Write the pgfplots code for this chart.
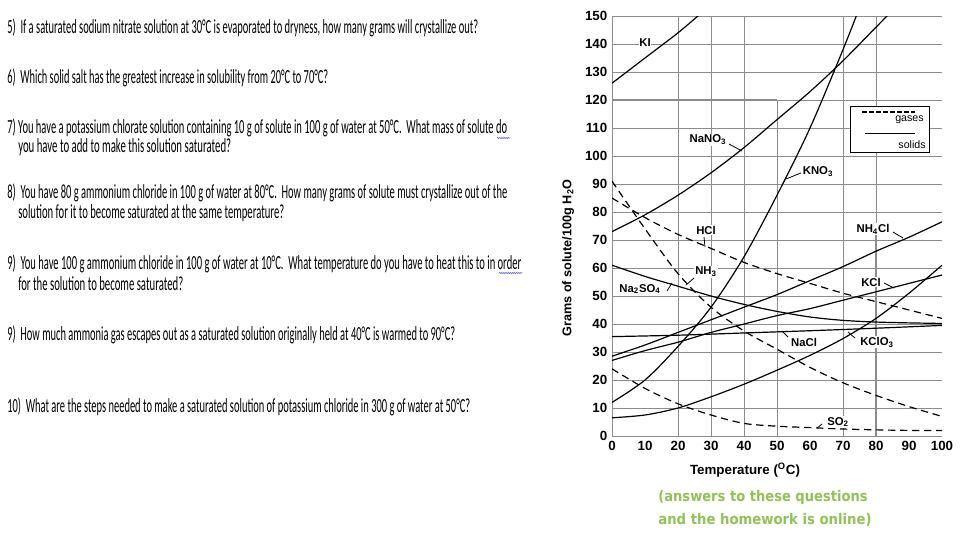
\documentclass[border=0pt]{standalone}
\usepackage{pgfplots}
\pgfplotsset{compat=1.18}
\usepackage{fontspec}
\setmainfont{Liberation Sans}
\newfontfamily\calib{Carlito}
\newfontfamily\dejavu{DejaVu Sans}
\usetikzlibrary{decorations.pathmorphing}
\definecolor{gridgray}{RGB}{140,140,140}
\definecolor{ansgreen}{RGB}{143,196,82}
\definecolor{spellblue}{RGB}{90,90,210}

% one line of the worksheet: x, baseline y (px), width (pt), text
\newcommand{\qline}[4]{%
  \node[anchor=base west,inner sep=0pt] at (#1,#2)
    {\resizebox{#3}{\height}{\calib\fontsize{15}{18}\selectfont #4}};}

\begin{document}
\begin{tikzpicture}
\useasboundingbox (0,0) rectangle (720pt,-405pt);

\begin{axis}[
  at={(459pt,-327pt)}, anchor=south west,
  scale only axis, width=247.5pt, height=315pt,
  xmin=0, xmax=100, ymin=0, ymax=150,
  xtick={0,10,...,100}, ytick={0,10,...,150},
  axis x line*=bottom, axis y line*=left,
  axis line style={gridgray, line width=0.75pt},
  ymajorgrids,
  grid style={gridgray, line width=0.6pt},
  major tick length=0pt,
  ticklabel style={font=\bfseries\fontsize{10}{12}\selectfont},
  /pgf/number format/assume math mode=true,
  cycle list={{black,solid}},
  every axis plot post/.append style={black, mark=none, line width=0.9pt, smooth},
  gas/.style={black, dash pattern=on 5.5pt off 3.5pt},
]
% partial vertical grid, as on the sheet
\draw[gridgray, line width=0.6pt] (axis cs:20,0) -- (axis cs:20,150);
\draw[gridgray, line width=0.6pt] (axis cs:30,0) -- (axis cs:30,150);
\draw[gridgray, line width=0.6pt] (axis cs:40,0) -- (axis cs:40,150);
\draw[gridgray, line width=0.6pt] (axis cs:50,0) -- (axis cs:50,120);
\draw[gridgray, line width=0.6pt] (axis cs:70,0) -- (axis cs:70,150);
\draw[gridgray, line width=0.6pt] (axis cs:80,75) -- (axis cs:80,150);
\draw[gridgray, line width=1.5pt] (axis cs:80,0) -- (axis cs:80,75);
\draw[gridgray, line width=1.5pt] (axis cs:0,120) -- (axis cs:50,120);

% solids
\addplot coordinates {(0,126) (10,135) (20,144) (27,151)}; % KI
\addplot coordinates {(0,73) (10,79) (20,86) (30,94) (40,103) (50,113) (60,123) (70,134) (80,146) (85,152)}; % NaNO3
\addplot coordinates {(0,12) (10,20) (20,32) (30,46) (40,64) (50,86) (60,110) (70,138) (75,153)}; % KNO3
\addplot coordinates {(0,28.5) (10,32.5) (20,37) (30,41.5) (40,46) (50,50.5) (60,55.5) (70,60.5) (80,66) (90,71) (100,76.5)}; % NH4Cl
\addplot coordinates {(0,27) (10,30.5) (20,33.5) (30,37) (40,40) (50,43) (60,45.5) (70,48.5) (80,51.5) (90,54.5) (100,57.5)}; % KCl
\addplot coordinates {(0,35.5) (20,36) (40,36.8) (60,37.6) (80,38.5) (100,39.5)}; % NaCl
\addplot coordinates {(0,61) (10,57) (20,53.5) (30,50) (40,47) (50,44.5) (60,42.5) (70,41.3) (80,40.7) (90,40.4) (100,40.2)}; % Na2SO4
\addplot coordinates {(0,6.5) (10,7.5) (20,10) (30,14) (40,18.5) (50,23.5) (60,28.8) (70,34.8) (80,42) (90,51) (100,61)}; % KClO3
% gases
\addplot[gas] coordinates {(0,85) (10,78) (20,72) (30,67) (40,62) (50,58) (60,54.5) (70,51) (80,48) (90,45) (100,42)}; % HCl
\addplot[gas] coordinates {(0,91) (10,74) (20,58) (30,46) (40,37.5) (50,31) (60,24.5) (70,19) (80,14.5) (90,10.5) (100,7)}; % NH3
\addplot[gas] coordinates {(0,24) (10,17) (20,11.5) (30,7.5) (40,4.5) (50,3.5) (60,3) (70,2.5) (80,2.2) (90,2) (100,2)}; % SO2
\end{axis}

\begin{scope}[x=0.75pt, y=-0.75pt]
% axis titles
\node[rotate=90, font=\bfseries\fontsize{9.5}{11}\selectfont] at (568,258) {Grams of solute/100g H\textsubscript{2}O};
\node[font=\bfseries\fontsize{10}{12}\selectfont] at (745,470) {Temperature (\textsuperscript{O}C)};

% curve labels
\tikzset{lab/.style={fill=white, inner sep=0.6pt, font=\bfseries\fontsize{8.5}{10}\selectfont}}
\node[lab] at (645,43) {KI};
\node[lab] at (708,140) {NaNO\textsubscript{3}};
\node[lab] at (818,172) {KNO\textsubscript{3}};
\node[lab] at (706,230) {HCl};
\node[lab] at (873,229) {NH\textsubscript{4}Cl};
\node[lab] at (706,272) {NH\textsubscript{3}};
\node[lab] at (640,289) {Na\textsubscript{2}SO\textsubscript{4}};
\node[lab] at (871,282) {KCl};
\node[lab] at (804,342) {NaCl};
\node[lab] at (877,342) {KClO\textsubscript{3}};
\node[lab] at (838,422) {SO\textsubscript{2}};
\begin{scope}[line width=0.6pt]
\draw (729,144) -- (742,151);
\draw (801,173) -- (786,179);
\draw (704,237) -- (705,247);
\draw (893,232) -- (903,238);
\draw (694,278) -- (686,285);
\draw (667,291) -- (672,283);
\draw (884,283) -- (894,288);
\draw (788,337) -- (782,331);
\draw (855,338) -- (848,332);
\draw (822,424) -- (817,428);
\end{scope}

% key
\draw[line width=0.6pt, fill=white] (850,106) rectangle (929,152);
\draw[line width=1.4pt, dash pattern=on 3.75pt off 1.5pt] (862,112) -- (915,112);
\draw[line width=0.6pt] (865,133) -- (915,133);
\node[anchor=east, inner sep=0pt, font=\fontsize{8}{9}\selectfont] at (924,120) {gases};
\node[anchor=east, inner sep=0pt, font=\fontsize{8}{9}\selectfont] at (926,145) {solids};

% worksheet questions
\qline{7}{33}{353.25pt}{5)\ \ If a saturated sodium nitrate solution at 30°C is evaporated to dryness, how many grams will crystallize out?}
\qline{7}{83}{240.75pt}{6)\ \ Which solid salt has the greatest increase in solubility from 20°C to 70°C?}
\qline{7}{133}{375pt}{7) You have a potassium chlorate solution containing 10 g of solute in 100 g of water at 50°C.\ \ What mass of solute do}
\qline{18}{152}{159.75pt}{you have to add to make this solution saturated?}
\qline{7}{198}{375pt}{8)\ \ You have 80 g ammonium chloride in 100 g of water at 80°C.\ \ How many grams of solute must crystallize out of the}
\qline{18}{218}{199.5pt}{solution for it to become saturated at the same temperature?}
\qline{7}{269}{385.5pt}{9)\ \ You have 100 g ammonium chloride in 100 g of water at 10°C.\ \ What temperature do you have to heat this to in order}
\qline{18}{290}{123.75pt}{for the solution to become saturated?}
\qline{7}{340}{336pt}{9)\ \ How much ammonia gas escapes out as a saturated solution originally held at 40°C is warmed to 90°C?}
\qline{7}{412}{347.25pt}{10)\ \ What are the steps needed to make a saturated solution of potassium chloride in 300 g of water at 50°C?}
\draw[spellblue, line width=0.4pt, decorate, decoration={snake, amplitude=0.5pt, segment length=1.6pt}] (497,138) -- (510,138);
\draw[spellblue, line width=0.4pt, decorate, decoration={snake, amplitude=0.5pt, segment length=1.6pt}] (499,273) -- (522,273);

% note
\node[ansgreen, inner sep=0pt] at (763,497) {\resizebox{157pt}{\height}{\dejavu\bfseries\fontsize{11}{13}\selectfont (answers to these questions}};
\node[ansgreen, inner sep=0pt] at (765,520) {\resizebox{160pt}{\height}{\dejavu\bfseries\fontsize{11}{13}\selectfont and the homework is online)}};
\end{scope}
\end{tikzpicture}
\end{document}
